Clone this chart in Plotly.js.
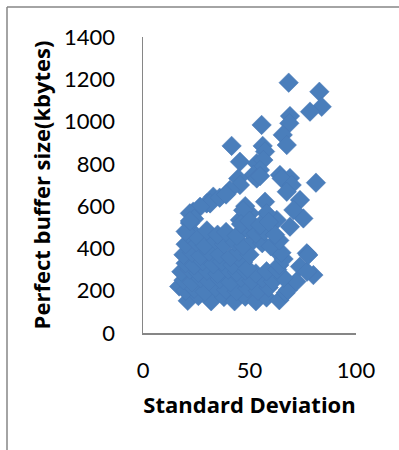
<!DOCTYPE html>
<html>
<head>
<meta charset="utf-8">
<script src="https://cdn.plot.ly/plotly-3.0.1.min.js"></script>
<style>html,body{margin:0;padding:0;background:#fff;overflow:hidden}#chart{width:399px;height:450px}</style>
</head>
<body>
<div id="chart"></div>
<script>
// Standard deviation (x) and perfect buffer size in kbytes (y)
const stdDev = [
  68.4, 82.8, 83.9, 78.4, 69.0, 68.7, 55.7, 65.6, 67.5, 41.6, 56.2, 57.3, 45.5, 53.4, 56.5, 54.9, 51.8, 64.3, 69.0, 81.2,
  65.1, 69.8, 53.4, 44.7, 45.5, 40.8, 55.0, 67.5, 57.3, 73.7, 33.0, 29.9, 23.6, 75.3, 69.0, 76.9, 70.6, 62.8, 58.0, 50.2,
  45.5, 31.5, 26.8, 22.0, 48.0, 36.0, 39.0, 47.0,
  21, 26, 32, 38, 43, 48, 53, 58, 64, 67,
  17, 20, 24, 29, 34, 39, 44, 49, 54, 59, 68, 72,
  19, 23, 27, 31, 36, 41, 46, 51, 56, 61, 66, 80,
  18, 22, 26, 30, 35, 40, 44, 48, 53, 58, 63, 73.7, 77,
  20, 24, 28, 33, 37, 42, 47, 49, 64, 66,
  19, 23, 27, 31, 36, 41, 45, 50, 62, 65, 77.6,
  20, 25, 29, 34, 38, 43, 47, 52, 56, 60, 64,
  21, 25, 30, 35, 39, 44, 49, 53, 57, 62,
  22, 46, 50, 55, 59, 24, 20, 22
];
const bufferSize = [
  1184, 1141, 1070, 1047, 1026, 992, 984, 937, 889, 885, 885, 858, 810, 803, 818, 771, 747, 747, 733, 711,
  731, 700, 731, 731, 700, 676, 742, 668, 621, 629, 645, 613, 574, 542, 503, 377, 582, 535, 566, 566,
  535, 613, 597, 566, 600, 640, 655, 580,
  152, 175, 150, 170, 150, 172, 150, 168, 155, 190,
  220, 200, 210, 195, 215, 205, 198, 212, 200, 215, 203, 243,
  250, 240, 260, 245, 255, 240, 262, 248, 258, 245, 262, 274,
  290, 300, 285, 295, 280, 300, 288, 296, 282, 292, 300, 314, 290,
  330, 320, 340, 325, 338, 322, 335, 305, 322, 350,
  370, 380, 365, 385, 372, 360, 385, 370, 395, 380, 369,
  420, 430, 415, 440, 420, 432, 412, 440, 425, 410, 438,
  470, 460, 485, 465, 478, 460, 490, 470, 482, 465,
  520, 515, 530, 510, 525, 540, 480, 530
];
const xTicks = [0, 50, 100];
const yTicks = [0, 200, 400, 600, 800, 1000, 1200, 1400];

const axisGray = '#868686';
const font = 'Lato, "Open Sans", sans-serif';
const titleFont = '"Open Sans", Lato, sans-serif';

const trace = {
  type: 'scatter', mode: 'markers',
  x: stdDev, y: bufferSize,
  marker: {symbol: 'diamond', size: 15, color: '#4A7EBB', line: {width: 0.5, color: '#4677B5'}},
  hoverinfo: 'skip'
};

const layout = {
  width: 399, height: 450,
  margin: {l: 143, r: 43, t: 37, b: 117},
  paper_bgcolor: '#fff', plot_bgcolor: '#fff',
  showlegend: false,
  font: {family: font, color: '#000'},
  xaxis: {
    range: [0, 100], tickvals: xTicks, ticktext: xTicks.map(String),
    showgrid: false, zeroline: false, showline: true, linecolor: axisGray, linewidth: 1.5,
    ticks: '', ticklabelstandoff: 17,
    tickfont: {family: font, size: 22, color: '#000'},
    title: {text: 'Standard Deviation', font: {family: titleFont, size: 22, color: '#000', weight: 'bold'}, standoff: 15},
    fixedrange: true
  },
  yaxis: {
    range: [0, 1400], tickvals: yTicks, ticktext: yTicks.map(String),
    showgrid: false, zeroline: false, showline: true, linecolor: axisGray, linewidth: 1.5,
    ticks: '', ticklabelstandoff: 22,
    tickfont: {family: font, size: 22, color: '#000'},
    title: {text: 'Perfect buffer size(kbytes)', font: {family: titleFont, size: 22, color: '#000', weight: 'bold'}, standoff: 7},
    fixedrange: true
  },
  shapes: [
    {type: 'line', xref: 'paper', yref: 'paper', x0: -0.6385, x1: 2, y0: 1.1014, y1: 1.1014, line: {color: axisGray, width: 1.5}},
    {type: 'line', xref: 'paper', yref: 'paper', x0: -0.6385, x1: -0.6385, y0: -1, y1: 1.1014, line: {color: axisGray, width: 1.5}}
  ]
};

Plotly.newPlot('chart', [trace], layout, {staticPlot: true, displayModeBar: false});
</script>
</body>
</html>
